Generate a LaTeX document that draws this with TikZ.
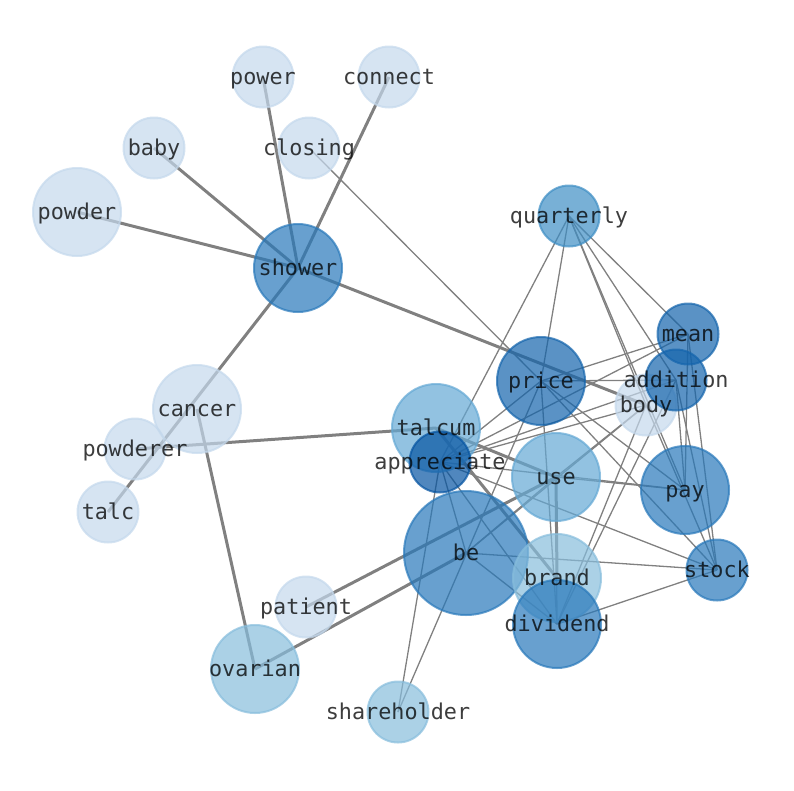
\documentclass[tikz,border=0pt]{standalone}
\usepackage{fontspec}
\setmonofont{DejaVu Sans Mono}
\usepackage{tikz}
\definecolor{edgegray}{RGB}{128,128,128}
\definecolor{paleblue}{RGB}{196,216,236}
\definecolor{softblue}{RGB}{135,189,220}
\definecolor{skyblue}{RGB}{100,168,212}
\definecolor{midblue}{RGB}{62,142,196}
\definecolor{deepblue}{RGB}{40,120,186}
\definecolor{darkblue}{RGB}{20,100,172}
\definecolor{inkblue}{RGB}{5,84,162}

\begin{document}
\begin{tikzpicture}[x=1pt, y=-1pt,
    word/.style={circle, inner sep=0pt, line width=2pt,
        fill opacity=0.7, draw opacity=0.7, fill=#1, draw=#1},
    small/.style={minimum size=61pt},
    mid/.style={minimum size=88pt},
    big/.style={minimum size=124pt},
    link/.style={draw=edgegray, line width=1.3pt},
    strong/.style={draw=edgegray, line width=3pt},
    lbl/.style={font=\fontsize{21.8}{26}\selectfont\ttfamily, text=black,
        text opacity=0.76, inner sep=0pt, text height=16.4pt, text depth=5.1pt,
        yshift=-2pt}]
    % Canvas
    \useasboundingbox (0,0) rectangle (794,790);

    % Positions of the words
    \coordinate (power) at (263,77);
    \coordinate (connect) at (389,77);
    \coordinate (baby) at (154,148);
    \coordinate (closing) at (309,148);
    \coordinate (powder) at (77,212);
    \coordinate (shower) at (298,268);
    \coordinate (quarterly) at (569,216);
    \coordinate (mean) at (688,334);
    \coordinate (addition) at (676,380);
    \coordinate (price) at (541,381);
    \coordinate (body) at (646,405);
    \coordinate (talcum) at (436,428);
    \coordinate (appreciate) at (440,462);
    \coordinate (cancer) at (197,409);
    \coordinate (powderer) at (135,449);
    \coordinate (talc) at (108,512);
    \coordinate (use) at (556,477);
    \coordinate (pay) at (685,490);
    \coordinate (be) at (466,553);
    \coordinate (brand) at (557,578);
    \coordinate (stock) at (717,570);
    \coordinate (dividend) at (557,624);
    \coordinate (patient) at (306,607);
    \coordinate (ovarian) at (255,669);
    \coordinate (shareholder) at (398,712);

    % Strong links
    \draw[strong] (shower) -- (power);
    \draw[strong] (shower) -- (connect);
    \draw[strong] (shower) -- (baby);
    \draw[strong] (shower) -- (powder);
    \draw[strong] (shower) -- (talc);
    \draw[strong] (shower) -- (body);
    \draw[strong] (powderer) -- (talcum);
    \draw[strong] (cancer) -- (ovarian);
    \draw[strong] (patient) -- (use);
    \draw[strong] (ovarian) -- (be);
    \draw[strong] (talcum) -- (brand);
    \draw[strong] (talcum) -- (use);
    \draw[strong] (use) -- (brand);

    % Weak links
    \draw[link] (closing) -- (price);
    \draw[link] (quarterly) -- (appreciate);
    \draw[link] (quarterly) -- (price);
    \draw[link] (quarterly) -- (body);
    \draw[link] (quarterly) -- (pay);
    \draw[link] (quarterly) -- (addition);
    \draw[link] (quarterly) -- (mean);
    \draw[link] (mean) -- (price);
    \draw[link] (mean) -- (appreciate);
    \draw[link] (mean) -- (pay);
    \draw[link] (mean) -- (stock);
    \draw[link] (addition) -- (price);
    \draw[link] (addition) -- (appreciate);
    \draw[link] (addition) -- (pay);
    \draw[link] (addition) -- (stock);
    \draw[link] (addition) -- (dividend);
    \draw[link] (body) -- (appreciate);
    \draw[link] (body) -- (use);
    \draw[link] (body) -- (dividend);
    \draw[link] (body) -- (stock);
    \draw[link] (body) -- (be);
    \draw[link] (price) -- (appreciate);
    \draw[link] (price) -- (pay);
    \draw[link] (price) -- (stock);
    \draw[link] (price) -- (dividend);
    \draw[link] (price) -- (shareholder);
    \draw[link] (appreciate) -- (be);
    \draw[link] (appreciate) -- (dividend);
    \draw[link] (appreciate) -- (stock);
    \draw[link] (appreciate) -- (pay);
    \draw[link] (appreciate) -- (shareholder);
    \draw[link] (use) -- (dividend);
    \draw[link] (use) -- (pay);
    \draw[link] (use) -- (be);
    \draw[link] (be) -- (stock);
    \draw[link] (be) -- (dividend);
    \draw[link] (dividend) -- (stock);

    % Word circles
    \node[word=paleblue, small] (n-power) at (power) {};
    \node[word=paleblue, small] (n-connect) at (connect) {};
    \node[word=paleblue, small] (n-baby) at (baby) {};
    \node[word=paleblue, small] (n-closing) at (closing) {};
    \node[word=paleblue, mid] (n-powder) at (powder) {};
    \node[word=deepblue, mid] (n-shower) at (shower) {};
    \node[word=midblue, small] (n-quarterly) at (quarterly) {};
    \node[word=darkblue, small] (n-mean) at (mean) {};
    \node[word=darkblue, mid] (n-price) at (price) {};
    \node[word=paleblue, small] (n-body) at (body) {};
    \node[word=darkblue, small] (n-addition) at (addition) {};
    \node[word=skyblue, mid] (n-talcum) at (talcum) {};
    \node[word=inkblue, small] (n-appreciate) at (appreciate) {};
    \node[word=paleblue, mid] (n-cancer) at (cancer) {};
    \node[word=paleblue, small] (n-powderer) at (powderer) {};
    \node[word=paleblue, small] (n-talc) at (talc) {};
    \node[word=skyblue, mid] (n-use) at (use) {};
    \node[word=deepblue, mid] (n-pay) at (pay) {};
    \node[word=deepblue, big] (n-be) at (be) {};
    \node[word=softblue, mid] (n-brand) at (brand) {};
    \node[word=deepblue, small] (n-stock) at (stock) {};
    \node[word=deepblue, mid] (n-dividend) at (dividend) {};
    \node[word=paleblue, small] (n-patient) at (patient) {};
    \node[word=softblue, mid] (n-ovarian) at (ovarian) {};
    \node[word=softblue, small] (n-shareholder) at (shareholder) {};

    % Labels
    \node[lbl] (t-power) at (power) {power};
    \node[lbl] (t-connect) at (connect) {connect};
    \node[lbl] (t-baby) at (baby) {baby};
    \node[lbl] (t-closing) at (closing) {closing};
    \node[lbl] (t-powder) at (powder) {powder};
    \node[lbl] (t-shower) at (shower) {shower};
    \node[lbl] (t-quarterly) at (quarterly) {quarterly};
    \node[lbl] (t-mean) at (mean) {mean};
    \node[lbl] (t-price) at (price) {price};
    \node[lbl] (t-body) at (body) {body};
    \node[lbl] (t-addition) at (addition) {addition};
    \node[lbl] (t-talcum) at (talcum) {talcum};
    \node[lbl] (t-appreciate) at (appreciate) {appreciate};
    \node[lbl] (t-cancer) at (cancer) {cancer};
    \node[lbl] (t-powderer) at (powderer) {powderer};
    \node[lbl] (t-talc) at (talc) {talc};
    \node[lbl] (t-use) at (use) {use};
    \node[lbl] (t-pay) at (pay) {pay};
    \node[lbl] (t-be) at (be) {be};
    \node[lbl] (t-brand) at (brand) {brand};
    \node[lbl] (t-stock) at (stock) {stock};
    \node[lbl] (t-dividend) at (dividend) {dividend};
    \node[lbl] (t-patient) at (patient) {patient};
    \node[lbl] (t-ovarian) at (ovarian) {ovarian};
    \node[lbl] (t-shareholder) at (shareholder) {shareholder};
\end{tikzpicture}
\end{document}
